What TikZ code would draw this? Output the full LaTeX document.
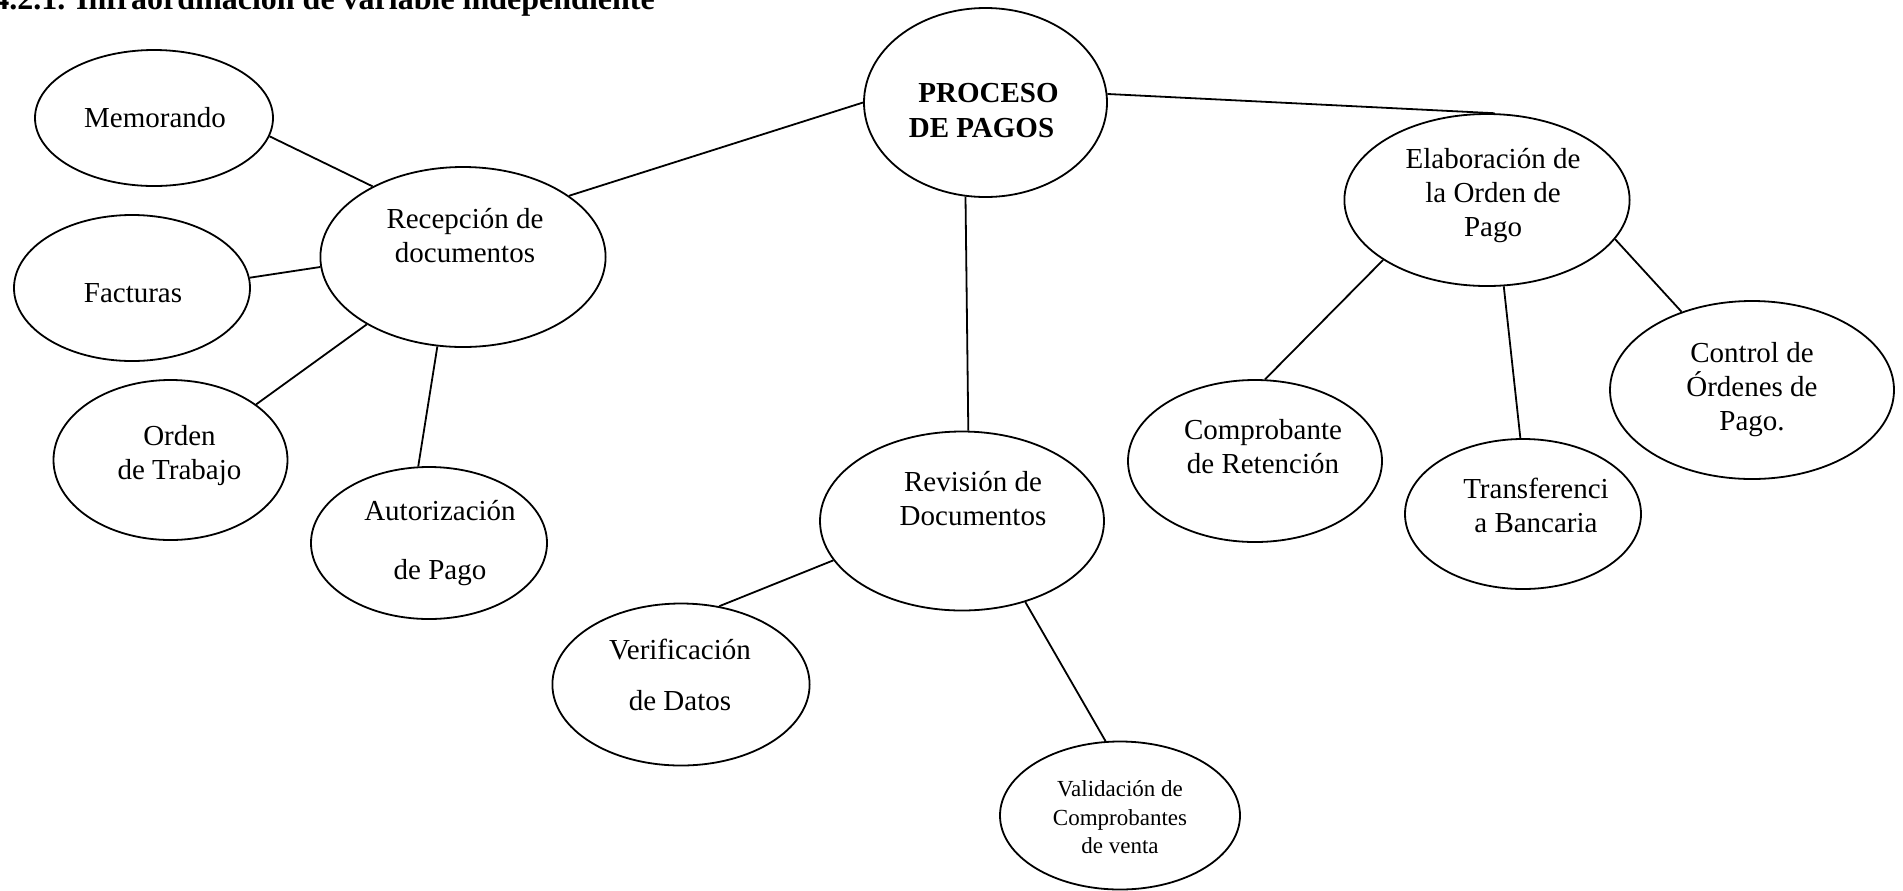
\documentclass[tikz,border=0pt]{standalone}
\usepackage{fontspec}
\setmainfont{Liberation Serif}
\usetikzlibrary{shapes.geometric}
\begin{document}
\begin{tikzpicture}[x=0.5pt,y=-0.5pt,
  oval/.style={draw, ellipse, line width=0.9pt, inner sep=0pt},
  lbl/.style={align=center, inner sep=0pt, font=\fontsize{14.5}{17}\selectfont},
  small/.style={align=center, inner sep=0pt, font=\fontsize{11.5}{14.2}\selectfont},
  link/.style={line width=0.9pt}]
\useasboundingbox (0,0) rectangle (1903,890);

% heading (cut at the top edge)
\node[anchor=base west, inner sep=0pt, font=\fontsize{16}{18}\selectfont\bfseries] (title) at (-7,9)
  {4.2.1. Infraordinación de variable independiente};

% ellipses
\node[oval, minimum width=121.5pt, minimum height=94.5pt] (proc)    at (985.5,102.5) {};
\node[oval, minimum width=142.6pt, minimum height=90pt]   (recep)   at (463,257) {};
\node[oval, minimum width=119pt,   minimum height=68pt]   (memo)    at (154,118) {};
\node[oval, minimum width=118pt,   minimum height=73pt]   (fact)    at (132,288) {};
\node[oval, minimum width=117pt,   minimum height=80pt]   (orden)   at (170.5,460) {};
\node[oval, minimum width=118pt,   minimum height=76pt]   (autor)   at (429,543) {};
\node[oval, minimum width=142pt,   minimum height=89.5pt] (revis)   at (962,521) {};
\node[oval, minimum width=128.6pt, minimum height=81pt]   (verif)   at (681,684.5) {};
\node[oval, minimum width=120pt,   minimum height=74pt]   (valid)   at (1120,815.5) {};
\node[oval, minimum width=142.6pt, minimum height=86pt]   (elab)    at (1487,200) {};
\node[oval, minimum width=127pt,   minimum height=81pt]   (compr)   at (1255,461) {};
\node[oval, minimum width=118pt,   minimum height=75pt]   (transf)  at (1523,514) {};
\node[oval, minimum width=142pt,   minimum height=89pt]   (control) at (1752,390) {};

% texts
\node[lbl, font=\fontsize{14.5}{17.5}\selectfont\bfseries] (proc-t) at ([shift={(-4,8)}]proc.center) {\hspace*{7pt}PROCESO\\DE PAGOS};
\node[lbl] (recep-t)   at ([shift={(2,-21)}]recep.center)  {Recepción de\\documentos};
\node[lbl] (memo-t)    at ([shift={(1,0)}]memo.center)     {Memorando};
\node[lbl] (fact-t)    at ([shift={(1,5)}]fact.center)     {Facturas};
\node[lbl] (orden-t)   at ([shift={(9,-4)}]orden.center)   {Orden\\de Trabajo};
\node[lbl] (autor-t)   at ([shift={(11,0)}]autor.center)   {Autorización\\[12.5pt]de Pago};
\node[lbl] (revis-t)   at ([shift={(11,-22)}]revis.center) {Revisión de\\Documentos};
\node[lbl] (verif-t)   at ([shift={(-1,-10)}]verif.center) {Verificación\\[8.5pt]de Datos};
\node[small] (valid-t) at ([shift={(0,2)}]valid.center)    {Validación de\\Comprobantes\\de venta};
\node[lbl] (elab-t)    at ([shift={(6,-4)}]elab.center)    {Elaboración de\\la Orden de\\Pago};
\node[lbl] (compr-t)   at ([shift={(8,-14)}]compr.center)  {Comprobante\\de Retención};
\node[lbl] (transf-t)  at ([shift={(13,-9)}]transf.center) {Transferenci\\a Bancaria};
\node[lbl] (control-t) at ([shift={(0,0)}]control.center)  {Control de\\Órdenes de\\Pago.};

% connectors
\draw[link] (proc.180)    -- (recep.30.2);
\draw[link] (proc.258.8)  -- (revis.86.8);
\draw[link] (proc.4.3)    -- (elab.85);
\draw[link] (recep.142.5) -- (memo.-9.6);
\draw[link] (recep.184.7) -- (fact.5);
\draw[link] (recep.215.6) -- (orden.33.9);
\draw[link] (recep.254.2) -- (autor.98.6);
\draw[link] (revis.197.8) -- (verif.64.4);
\draw[link] (revis.308.7) -- (valid.101.1);
\draw[link] (elab.210.3)  -- (compr.83.2);
\draw[link] (elab.281.5)  -- (transf.92.8);
\draw[link] (elab.343)    -- (control.132.5);
\end{tikzpicture}
\end{document}
